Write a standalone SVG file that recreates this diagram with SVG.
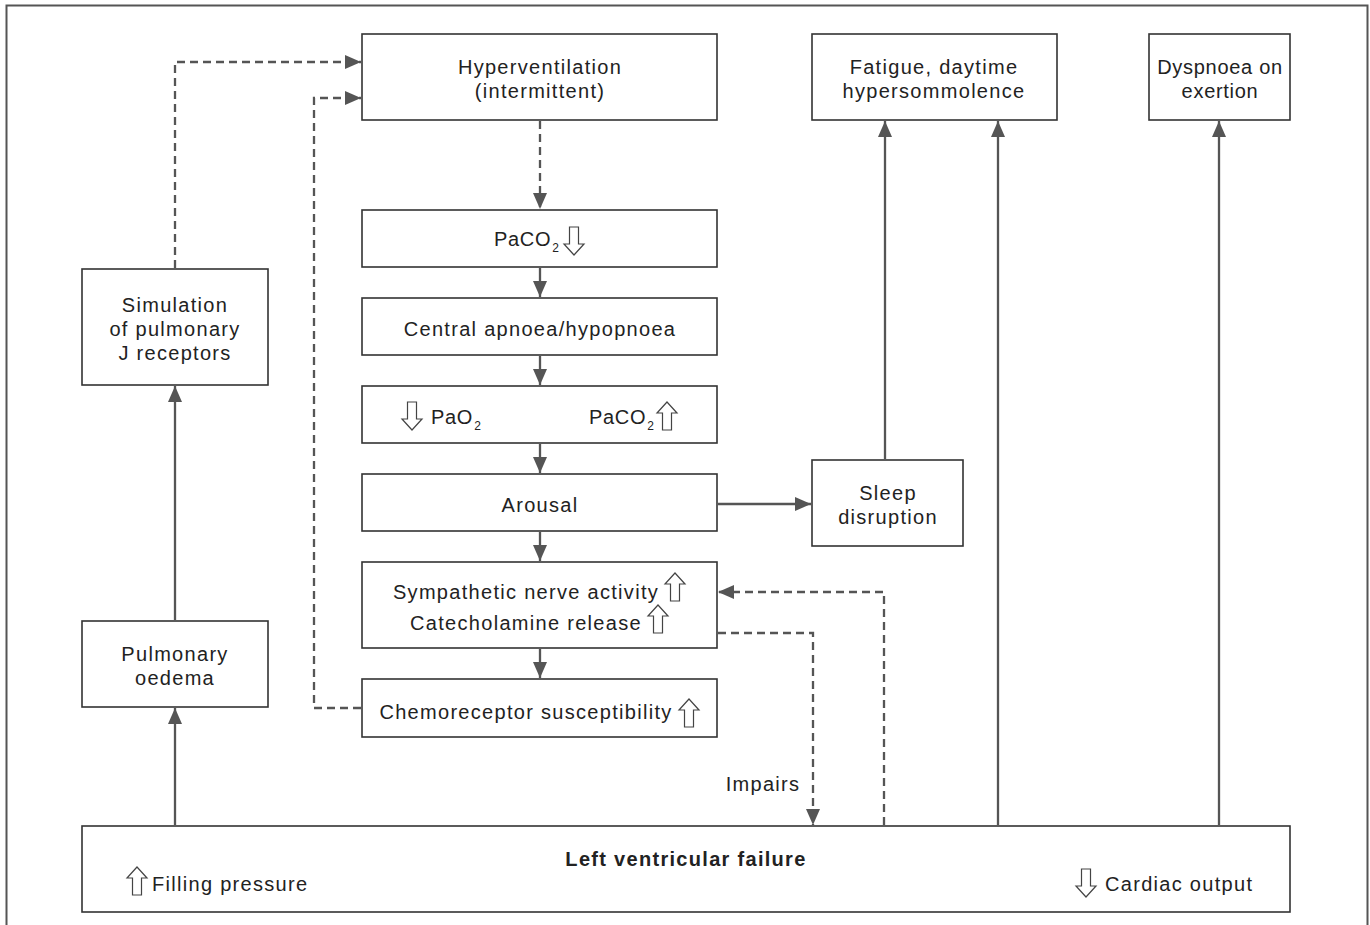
<svg xmlns="http://www.w3.org/2000/svg" width="1370" height="925" viewBox="0 0 1370 925">
<style>
.box{fill:#fff;stroke:#333;stroke-width:1.6}
.t{font-family:"Liberation Sans",Arial,sans-serif;font-size:20px;fill:#222;letter-spacing:1.3px;text-anchor:middle}
.ts{text-anchor:start}
.p{letter-spacing:0.7px}
.sub{font-size:12px;letter-spacing:0}
.c{fill:none;stroke:#555;stroke-width:2.3}
.d{stroke-dasharray:8 5}
.ha{fill:#fff;stroke:#444;stroke-width:1.2}
</style>
<defs>
<marker id="ah" markerUnits="userSpaceOnUse" markerWidth="16" markerHeight="14" refX="16" refY="7" orient="auto">
<path d="M0,0 L16,7 L0,14 z" fill="#555"/>
</marker>
<symbol id="up" viewBox="-11 -15 22 30" width="22" height="30" overflow="visible">
<path class="ha" d="M0,-14 L10,-3 L4.5,-3 L4.5,14 L-4.5,14 L-4.5,-3 L-10,-3 z"/>
</symbol>
<symbol id="down" viewBox="-11 -15 22 30" width="22" height="30" overflow="visible">
<path class="ha" d="M0,14 L10,3 L4.5,3 L4.5,-14 L-4.5,-14 L-4.5,3 L-10,3 z"/>
</symbol>
</defs>
<rect width="1370" height="925" fill="#fff"/>
<path d="M6.5,925 V5.5 H1367.5 V925" fill="none" stroke="#555" stroke-width="2"/>

<g id="connectors">
<path class="c d" d="M540,121 V209" marker-end="url(#ah)"/>
<path class="c" d="M540,268 V297" marker-end="url(#ah)"/>
<path class="c" d="M540,356 V385" marker-end="url(#ah)"/>
<path class="c" d="M540,444 V473" marker-end="url(#ah)"/>
<path class="c" d="M540,532 V561" marker-end="url(#ah)"/>
<path class="c" d="M540,649 V678" marker-end="url(#ah)"/>
<path class="c" d="M718,504 H811" marker-end="url(#ah)"/>
<path class="c" d="M885,459 V121" marker-end="url(#ah)"/>
<path class="c" d="M998,825 V121" marker-end="url(#ah)"/>
<path class="c" d="M1219,825 V121" marker-end="url(#ah)"/>
<path class="c" d="M175,825 V708" marker-end="url(#ah)"/>
<path class="c" d="M175,620 V386" marker-end="url(#ah)"/>
<path class="c d" d="M175,268 V62 H361" marker-end="url(#ah)"/>
<path class="c d" d="M361,708 H314 V98 H361" marker-end="url(#ah)"/>
<path class="c d" d="M718,633 H813 V825" marker-end="url(#ah)"/>
<path class="c d" d="M884,825 V592 H718" marker-end="url(#ah)"/>
<text class="t" x="763" y="791">Impairs</text>
</g>

<g id="hyperventilation">
<rect class="box" x="362" y="34" width="355" height="86"/>
<text class="t" x="540" y="74">Hyperventilation</text>
<text class="t" x="540" y="98">(intermittent)</text>
</g>
<g id="fatigue">
<rect class="box" x="812" y="34" width="245" height="86"/>
<text class="t" x="934" y="74">Fatigue, daytime</text>
<text class="t" x="934" y="98">hypersommolence</text>
</g>
<g id="dyspnoea">
<rect class="box" x="1149" y="34" width="141" height="86"/>
<text class="t p" x="1220" y="74">Dyspnoea on</text>
<text class="t p" x="1220" y="98">exertion</text>
</g>
<g id="paco2-down">
<rect class="box" x="362" y="210" width="355" height="57"/>
<text class="t ts p" x="494" y="246">PaCO<tspan class="sub" dx="1" dy="6">2</tspan></text>
<use href="#down" x="563" y="226"/>
</g>
<g id="apnoea">
<rect class="box" x="362" y="298" width="355" height="57"/>
<text class="t" x="540" y="336">Central apnoea/hypopnoea</text>
</g>
<g id="gases">
<rect class="box" x="362" y="386" width="355" height="57"/>
<use href="#down" x="401" y="401"/>
<text class="t ts p" x="431" y="424">PaO<tspan class="sub" dx="1" dy="6">2</tspan></text>
<text class="t ts p" x="589" y="424">PaCO<tspan class="sub" dx="1" dy="6">2</tspan></text>
<use href="#up" x="656" y="401"/>
</g>
<g id="arousal">
<rect class="box" x="362" y="474" width="355" height="57"/>
<text class="t" x="540" y="512">Arousal</text>
</g>
<g id="sympathetic">
<rect class="box" x="362" y="562" width="355" height="86"/>
<text class="t" x="526" y="599">Sympathetic nerve activity</text>
<use href="#up" x="664" y="572"/>
<text class="t" x="526" y="630">Catecholamine release</text>
<use href="#up" x="647" y="604"/>
</g>
<g id="chemoreceptor">
<rect class="box" x="362" y="679" width="355" height="58"/>
<text class="t" x="526" y="719">Chemoreceptor susceptibility</text>
<use href="#up" x="678" y="698"/>
</g>
<g id="sleep">
<rect class="box" x="812" y="460" width="151" height="86"/>
<text class="t" x="888" y="500">Sleep</text>
<text class="t" x="888" y="524">disruption</text>
</g>
<g id="simulation">
<rect class="box" x="82" y="269" width="186" height="116"/>
<text class="t" x="175" y="312">Simulation</text>
<text class="t" x="175" y="336">of pulmonary</text>
<text class="t" x="175" y="360">J receptors</text>
</g>
<g id="oedema">
<rect class="box" x="82" y="621" width="186" height="86"/>
<text class="t" x="175" y="661">Pulmonary</text>
<text class="t" x="175" y="685">oedema</text>
</g>
<g id="lvf">
<rect class="box" x="82" y="826" width="1208" height="86"/>
<text class="t" x="686" y="866" font-weight="bold" letter-spacing="0.4">Left ventricular failure</text>
<use href="#up" x="126" y="866"/>
<text class="t ts" x="152" y="891">Filling pressure</text>
<use href="#down" x="1075" y="868"/>
<text class="t ts" x="1105" y="891">Cardiac output</text>
</g>
</svg>
